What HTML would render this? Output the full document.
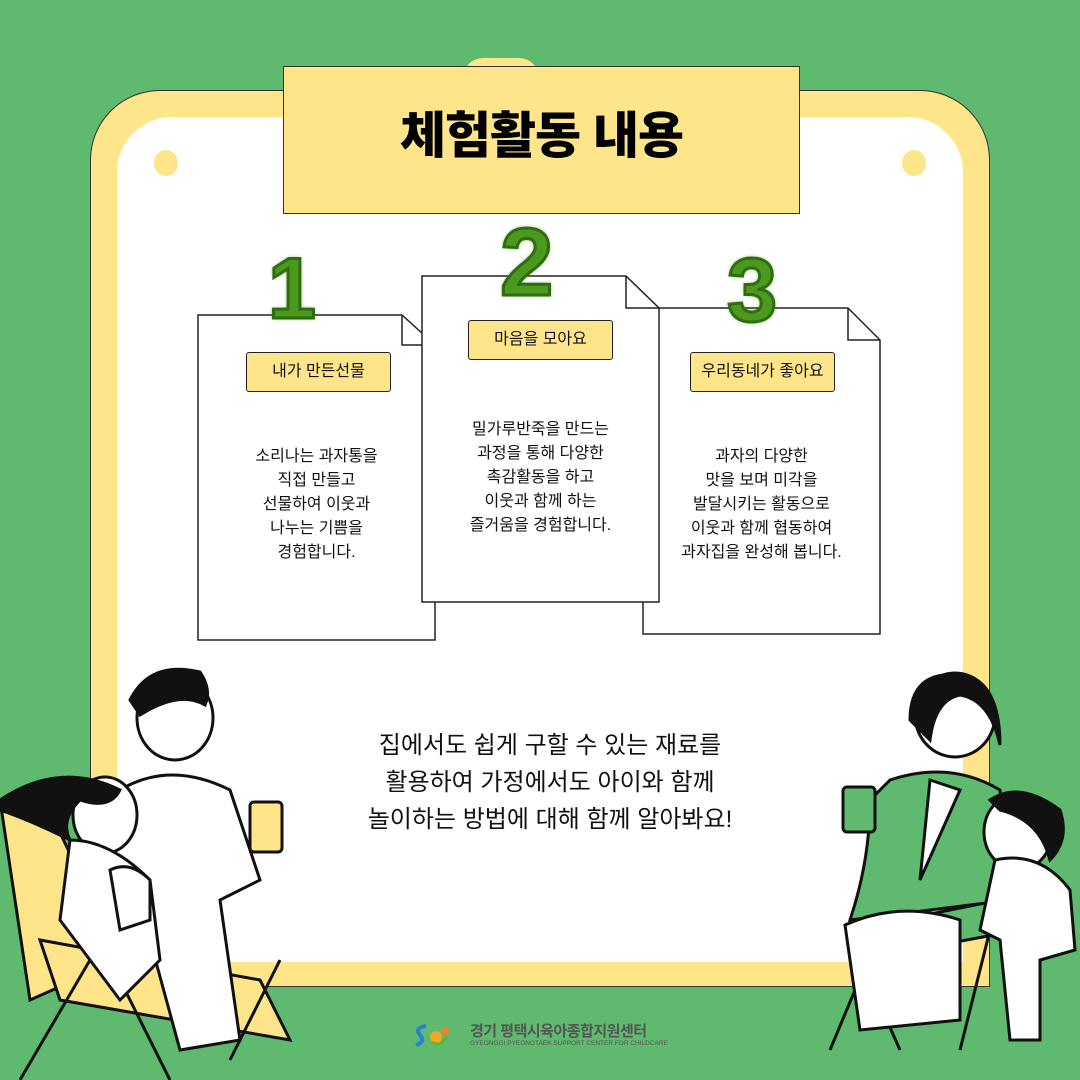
<!DOCTYPE html>
<html><head><meta charset="utf-8"><style>
body{margin:0;width:1080px;height:1080px;background:#5fb96f;position:relative;overflow:hidden;font-family:"Liberation Sans","Noto Sans CJK KR",sans-serif;}
.abs{position:absolute}
.lbl{position:absolute;background:#ffe58a;border:1.5px solid #222;border-radius:3px;font-size:16px;text-align:center;line-height:38px;height:38px;color:#111}
.txt{position:absolute;text-align:center;font-size:16px;line-height:24px;color:#111}
.num{position:absolute;font-family:"Liberation Sans","Noto Sans CJK KR",sans-serif;font-weight:900;color:#4b9a1e;-webkit-text-stroke:3px #2f6d10;text-shadow:0 0 4px #3e8a18}
</style></head><body>
<div class="abs" style="left:90px;top:90px;width:898px;height:895px;background:#ffe58a;border:1.5px solid #333;border-radius:70px 70px 0 0;"></div>
<div class="abs" style="left:117px;top:117px;width:846px;height:845px;background:#fff;border-radius:55px 55px 0 0;"></div>
<div class="abs" style="left:154px;top:150px;width:24px;height:26px;border-radius:50%;background:#ffe58a"></div>
<div class="abs" style="left:902px;top:150px;width:24px;height:26px;border-radius:50%;background:#ffe58a"></div>
<div class="abs" style="left:463px;top:58px;width:76px;height:20px;border-radius:40px 40px 0 0;background:#ffe58a"></div>
<div class="abs" style="left:283px;top:66px;width:515px;height:146px;background:#ffe58a;border:1.5px solid #333;"></div>
<div class="abs" style="left:283px;top:96px;width:517px;text-align:center;font-size:50px;font-weight:900;letter-spacing:-1px;color:#000;">체험활동 내용</div>

<svg class="abs" style="left:0;top:0" width="1080" height="1080">
<g fill="#fff" stroke="#222" stroke-width="1.5">
<path d="M198 315 H402 L435 345 V640 H198 Z"/><path d="M402 315 V345 H435" fill="none"/>
<path d="M643 308 H848 L880 340 V634 H643 Z"/><path d="M848 308 V340 H880" fill="none"/>
<path d="M422 276 H626 L659 308 V602 H422 Z"/><path d="M626 276 V308 H659" fill="none"/>
</g>
</svg>
<div class="num" style="left:268px;top:240px;font-size:86px;">1</div>
<div class="num" style="left:500px;top:208px;font-size:96px;">2</div>
<div class="num" style="left:727px;top:240px;font-size:90px;">3</div>

<div class="lbl" style="left:246px;top:352px;width:143px;">내가 만든선물</div>
<div class="lbl" style="left:468px;top:320px;width:143px;">마음을 모아요</div>
<div class="lbl" style="left:690px;top:352px;width:143px;">우리동네가 좋아요</div>

<div class="txt" style="left:198px;top:445px;width:237px;">소리나는 과자통을<br>직접 만들고<br>선물하여 이웃과<br>나누는 기쁨을<br>경험합니다.</div>
<div class="txt" style="left:422px;top:418px;width:237px;">밀가루반죽을 만드는<br>과정을 통해 다양한<br>촉감활동을 하고<br>이웃과 함께 하는<br>즐거움을 경험합니다.</div>
<div class="txt" style="left:643px;top:445px;width:237px;">과자의 다양한<br>맛을 보며 미각을<br>발달시키는 활동으로<br>이웃과 함께 협동하여<br>과자집을 완성해 봅니다.</div>

<div class="abs" style="left:300px;top:727px;width:500px;text-align:center;font-size:24px;line-height:37px;color:#111;">집에서도 쉽게 구할 수 있는 재료를<br>활용하여 가정에서도 아이와 함께<br>놀이하는 방법에 대해 함께 알아봐요!</div>

<svg class="abs" style="left:0;top:0" width="1080" height="1080" fill="none" stroke="#111" stroke-width="3">
<!-- left family -->
<path d="M0 800 L40 790 L120 960 L30 1000 Z" fill="#ffe58a"/>
<path d="M40 940 L260 980 L290 1040 L60 1000 Z" fill="#ffe58a"/>
<path d="M20 1080 L90 960 M170 1080 L120 980 M230 1060 L280 960"/>
<ellipse cx="175" cy="718" rx="38" ry="42" fill="#fff"/>
<path d="M130 700 Q150 660 200 672 Q212 690 205 705 Q180 690 140 715 Z" fill="#111"/>
<path d="M120 790 Q170 760 230 790 L260 880 L220 900 L240 1040 L180 1050 L150 940 L100 940 Z" fill="#fff"/>
<rect x="250" y="802" width="32" height="50" rx="4" fill="#ffe58a"/>
<ellipse cx="105" cy="815" rx="32" ry="38" fill="#fff"/>
<path d="M0 800 Q60 760 120 790 Q110 810 80 800 Q60 820 70 840 Q30 820 0 810 Z" fill="#111"/>
<path d="M70 840 Q110 840 150 880 L160 960 L120 1000 L60 920 Z" fill="#fff"/>
<path d="M110 870 Q130 860 150 880 L150 920 L120 930 Z" fill="#fff"/>
<!-- right family -->
<path d="M850 930 L1000 900 L1020 930 L860 960 Z" fill="#5fb96f"/>
<path d="M830 1050 L880 930 M960 1050 L990 930 M900 1050 L860 960"/>
<ellipse cx="955" cy="715" rx="40" ry="42" fill="#fff"/>
<path d="M910 720 Q910 670 960 675 Q1000 680 1000 745 Q990 700 960 695 Q935 700 930 740 Z" fill="#111"/>
<path d="M890 780 Q950 760 1000 790 L1010 900 L850 920 Q870 860 870 800 Z" fill="#5fb96f"/>
<path d="M930 780 L960 790 L920 880 Z" fill="#fff"/>
<path d="M845 925 Q900 900 960 920 L960 1020 L860 1030 Z" fill="#fff"/>
<rect x="843" y="787" width="32" height="45" rx="4" fill="#5fb96f"/>
<ellipse cx="1018" cy="832" rx="34" ry="38" fill="#fff"/>
<path d="M990 800 Q1020 780 1060 810 Q1070 840 1050 860 Q1040 820 1000 810 Z" fill="#111"/>
<path d="M995 860 Q1040 850 1070 890 L1075 950 L1040 960 L1040 1040 L1010 1040 L1000 940 L980 930 Z" fill="#fff"/>
</svg>

<div class="abs" style="left:412px;top:1022px;width:40px;height:26px;">
<svg width="40" height="26"><path d="M14 4 Q2 6 8 13 Q14 20 4 23" stroke="#2a7fd0" stroke-width="4" fill="none"/><circle cx="24" cy="15" r="6" fill="#f5a623"/><circle cx="33" cy="9" r="4" fill="#f08030"/><path d="M20 20 Q28 26 35 14" stroke="#6ab42c" stroke-width="3" fill="none"/></svg></div>
<div class="abs" style="left:470px;top:1020px;font-size:15px;color:#555;font-weight:bold;letter-spacing:-0.5px;">경기 평택시육아종합지원센터</div>
<div class="abs" style="left:470px;top:1040px;font-size:6.5px;color:#555;white-space:nowrap;">GYEONGGI PYEONGTAEK SUPPORT CENTER FOR CHILDCARE</div>
</body></html>
